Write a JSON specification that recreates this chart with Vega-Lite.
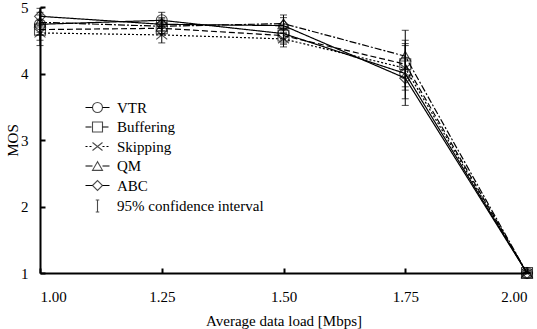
{
  "$schema": "https://vega.github.io/schema/vega-lite/v6.json",
  "width": 487,
  "height": 266,
  "autosize": "none",
  "padding": {"left": 40, "top": 7, "right": 10, "bottom": 56},
  "background": "white",
  "config": {
    "font": "Liberation Serif",
    "view": {"stroke": null},
    "axis": {
      "labelFont": "Liberation Serif", "titleFont": "Liberation Serif",
      "domainColor": "black", "domainWidth": 2, "tickColor": "black", "tickWidth": 2,
      "labelColor": "black", "titleColor": "black", "labelFontSize": 15, "titleFontSize": 15,
      "titleFontWeight": "normal", "grid": false
    },
    "legend": {"labelFont": "Liberation Serif", "titleFont": "Liberation Serif"}
  },
  "data": {
    "values": [
      {"load": 1.00, "s": "VTR", "mos": 4.74, "lo": 4.58, "hi": 4.88},
      {"load": 1.25, "s": "VTR", "mos": 4.80, "lo": 4.68, "hi": 4.92},
      {"load": 1.50, "s": "VTR", "mos": 4.60, "lo": 4.46, "hi": 4.74},
      {"load": 1.75, "s": "VTR", "mos": 4.00, "lo": 3.52, "hi": 4.45},
      {"load": 2.00, "s": "VTR", "mos": 1.0, "lo": 1.0, "hi": 1.0},
      {"load": 1.00, "s": "Buffering", "mos": 4.66, "lo": 4.50, "hi": 4.80},
      {"load": 1.25, "s": "Buffering", "mos": 4.68, "lo": 4.58, "hi": 4.78},
      {"load": 1.50, "s": "Buffering", "mos": 4.57, "lo": 4.44, "hi": 4.70},
      {"load": 1.75, "s": "Buffering", "mos": 4.14, "lo": 3.80, "hi": 4.50},
      {"load": 2.00, "s": "Buffering", "mos": 1.0, "lo": 1.0, "hi": 1.0},
      {"load": 1.00, "s": "Skipping", "mos": 4.61, "lo": 4.42, "hi": 4.76},
      {"load": 1.25, "s": "Skipping", "mos": 4.58, "lo": 4.46, "hi": 4.70},
      {"load": 1.50, "s": "Skipping", "mos": 4.52, "lo": 4.40, "hi": 4.66},
      {"load": 1.75, "s": "Skipping", "mos": 4.08, "lo": 3.75, "hi": 4.42},
      {"load": 2.00, "s": "Skipping", "mos": 1.0, "lo": 1.0, "hi": 1.0},
      {"load": 1.00, "s": "QM", "mos": 4.77, "lo": 4.62, "hi": 4.92},
      {"load": 1.25, "s": "QM", "mos": 4.71, "lo": 4.60, "hi": 4.82},
      {"load": 1.50, "s": "QM", "mos": 4.75, "lo": 4.62, "hi": 4.88},
      {"load": 1.75, "s": "QM", "mos": 4.26, "lo": 3.95, "hi": 4.65},
      {"load": 2.00, "s": "QM", "mos": 1.0, "lo": 1.0, "hi": 1.0},
      {"load": 1.00, "s": "ABC", "mos": 4.86, "lo": 4.72, "hi": 4.98},
      {"load": 1.25, "s": "ABC", "mos": 4.74, "lo": 4.64, "hi": 4.84},
      {"load": 1.50, "s": "ABC", "mos": 4.72, "lo": 4.60, "hi": 4.84},
      {"load": 1.75, "s": "ABC", "mos": 3.93, "lo": 3.62, "hi": 4.24},
      {"load": 2.00, "s": "ABC", "mos": 1.0, "lo": 1.0, "hi": 1.0}
    ]
  },
  "encoding": {
    "x": {
      "field": "load", "type": "quantitative",
      "scale": {"domain": [1, 2], "nice": false, "zero": false},
      "axis": {"values": [1, 1.25, 1.5, 1.75, 2], "format": ".2f", "tickSize": -5, "labelPadding": 21, "title": "Average data load [Mbps]", "titlePadding": 9}
    }
  },
  "layer": [
    {
      "mark": {"type": "errorbar", "ticks": {"size": 7, "color": "black", "strokeWidth": 1}, "rule": {"color": "black", "strokeWidth": 1}},
      "encoding": {
        "y": {"field": "lo", "type": "quantitative", "scale": {"domain": [1, 5], "nice": false, "zero": false},
          "axis": {"values": [1, 2, 3, 4, 5], "format": "d", "tickSize": -5, "labelPadding": 17, "title": "MOS", "titlePadding": 0}},
        "y2": {"field": "hi"}
      }
    },
    {
      "mark": {"type": "line", "color": "black", "strokeWidth": 1.2},
      "encoding": {
        "y": {"field": "mos", "type": "quantitative", "scale": {"domain": [1, 5], "nice": false, "zero": false},
          "axis": {"values": [1, 2, 3, 4, 5], "format": "d", "tickSize": -5, "labelPadding": 17, "title": "MOS", "titlePadding": 0}},
        "strokeDash": {
          "field": "s", "type": "nominal",
          "scale": {"domain": ["VTR", "Buffering", "Skipping", "QM", "ABC"], "range": [[1, 0], [6, 3], [2, 2], [7, 2, 2, 2], [1, 0]]},
          "legend": {
            "orient": "none", "legendX": 50, "legendY": 93, "title": null,
            "symbolType": "M-2.4,0H-1M1,0H2.4", "symbolSize": 100, "symbolStrokeColor": "black", "symbolStrokeWidth": 1.2,
            "labelExpr": "''", "labelFontSize": 15, "labelOffset": 12, "rowPadding": 3.5
          }
        }
      }
    },
    {
      "mark": {"type": "point", "filled": false, "color": "black", "strokeWidth": 1.1, "size": 120},
      "encoding": {
        "y": {"field": "mos", "type": "quantitative", "title": "MOS"},
        "shape": {
          "field": "s", "type": "nominal",
          "scale": {
            "domain": ["VTR", "Buffering", "Skipping", "QM", "ABC", "95% confidence interval"],
            "range": ["circle", "square", "M-1,-0.8L1,0.8M-1,0.8L1,-0.8", "triangle-up", "diamond", "M-0.35,-1.2H0.35M0,-1.2V1.2M-0.35,1.2H0.35"]
          },
          "legend": {
            "orient": "none", "legendX": 50, "legendY": 93, "title": null,
            "symbolSize": 100, "symbolStrokeColor": "black", "symbolFillColor": "white", "symbolStrokeWidth": 1.1,
            "labelFontSize": 15, "labelOffset": 12, "rowPadding": 3.5, "labelColor": "black"
          }
        }
      }
    }
  ]
}
